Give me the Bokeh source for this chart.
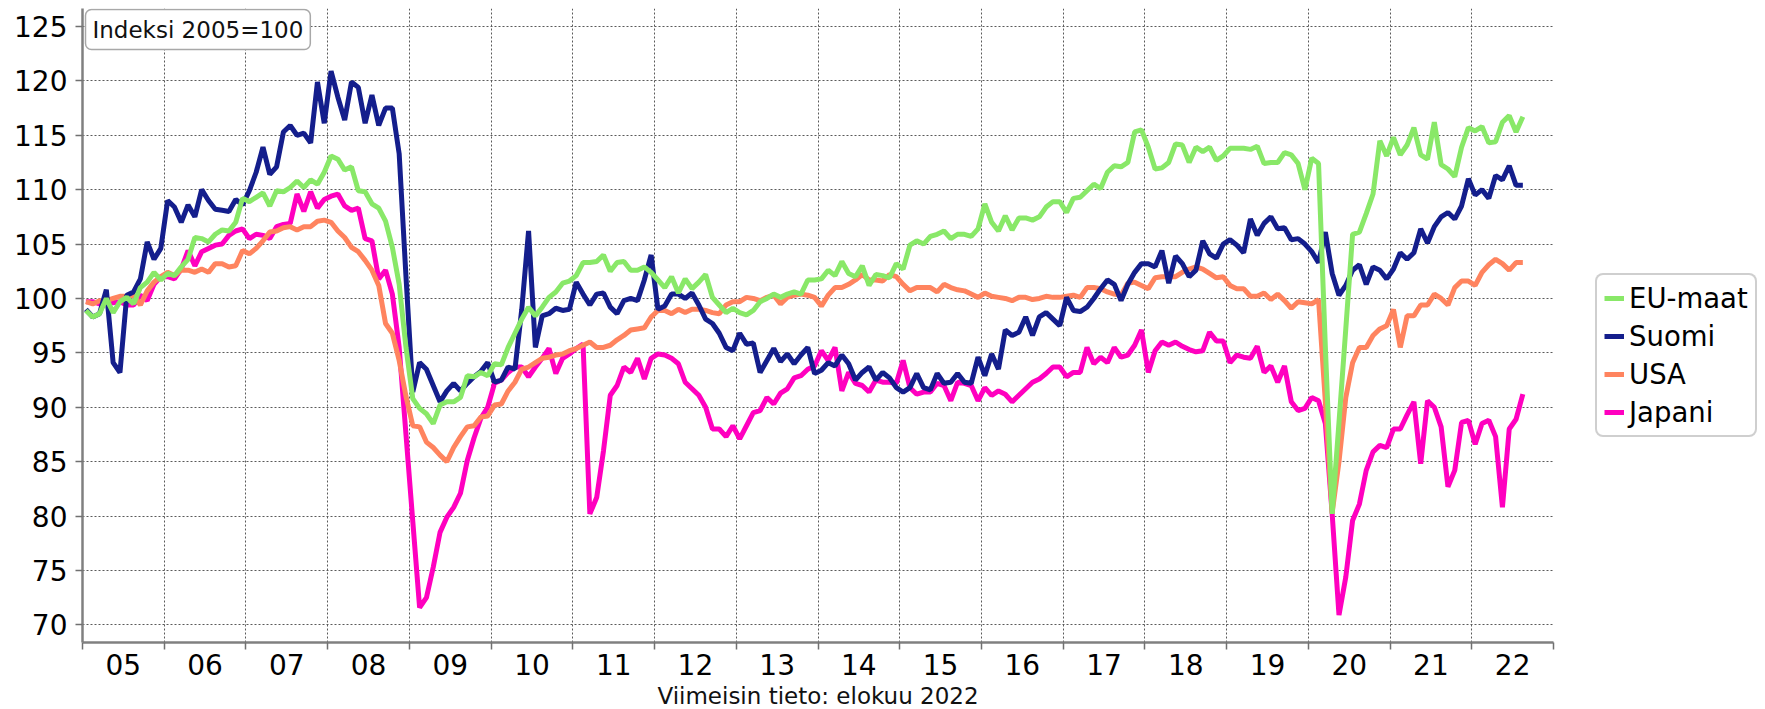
from bokeh.plotting import figure
from bokeh.models import Range1d, FixedTicker, Legend, LegendItem, Label, ColumnDataSource
from bokeh.embed import file_html
from bokeh.resources import INLINE

# ---------------- data (monthly index, 2005=100), Jan 2005 .. Aug 2022 ----------------
start_year = 2005
end_year = 2023
year_labels = ["05", "06", "07", "08", "09", "10", "11", "12", "13", "14",
               "15", "16", "17", "18", "19", "20", "21", "22"]
y_ticks = [70, 75, 80, 85, 90, 95, 100, 105, 110, 115, 120, 125]

eu_maat = [
    98.9, 98.3, 98.6, 100.0, 98.7, 99.7, 100.1, 99.5, 101.0, 101.5, 102.4, 101.7,
    102.3, 102.1, 102.9, 103.6, 105.6, 105.5, 105.2, 105.9, 106.3, 106.2, 107.0, 109.2,
    108.9, 109.3, 109.7, 108.5, 109.9, 109.8, 110.2, 110.8, 110.2, 110.9, 110.5, 111.6,
    113.1, 112.8, 111.8, 112.1, 109.9, 109.8, 108.7, 108.3, 107.1, 104.7, 101.3, 95.5,
    90.8, 89.9, 89.4, 88.5, 90.2, 90.5, 90.5, 90.9, 92.9, 92.8, 93.2, 92.9,
    94.0, 93.9, 95.5, 96.8, 98.1, 99.2, 98.4, 99.2, 100.1, 100.6, 101.4, 101.6,
    102.1, 103.3, 103.3, 103.4, 104.0, 102.5, 103.3, 103.4, 102.6, 102.6, 102.9, 102.4,
    101.7, 101.0, 102.0, 100.5, 101.8, 100.9, 101.5, 102.2, 100.1, 99.4, 98.7, 99.1,
    98.7, 98.5, 98.9, 99.7, 100.0, 100.4, 100.1, 100.4, 100.6, 100.4, 101.7, 101.7,
    101.8, 102.6, 102.1, 103.4, 102.3, 102.0, 103.0, 101.2, 102.2, 102.1, 101.9, 103.2,
    102.7, 104.9, 105.3, 105.0, 105.7, 105.9, 106.2, 105.5, 105.9, 105.9, 105.7, 106.4,
    108.7, 107.0, 106.2, 107.6, 106.3, 107.4, 107.4, 107.2, 107.5, 108.4, 108.9, 108.9,
    107.9, 109.2, 109.3, 109.9, 110.5, 110.1, 111.6, 112.2, 112.1, 112.5, 115.3, 115.5,
    113.9, 111.9, 112.0, 112.5, 114.2, 114.1, 112.5, 113.9, 113.5, 113.9, 112.7, 113.1,
    113.8, 113.8, 113.8, 113.7, 114.0, 112.4, 112.5, 112.5, 113.4, 113.2, 112.4, 110.0,
    112.9, 112.4, 95.5, 80.2, 88.6, 97.2, 105.9, 106.1, 107.8, 109.6, 114.5, 113.1,
    114.8, 113.2, 114.1, 115.7, 113.2, 112.8, 116.2, 112.3, 111.9, 111.2, 113.9, 115.7,
    115.4, 115.8, 114.3, 114.4, 116.2, 116.8, 115.3, 116.7,
]

suomi = [
    99.0, 98.3, 98.6, 100.8, 94.1, 93.2, 100.3, 100.6, 101.8, 105.2, 103.6, 104.6,
    109.0, 108.4, 107.0, 108.6, 107.5, 110.0, 109.0, 108.2, 108.1, 108.0, 109.1, 108.6,
    109.9, 111.6, 113.9, 111.4, 112.1, 115.3, 115.9, 115.0, 115.2, 114.3, 119.9, 116.1,
    120.9, 118.5, 116.4, 119.9, 119.4, 116.1, 118.7, 115.9, 117.5, 117.5, 113.3, 102.0,
    91.4, 94.1, 93.5, 92.0, 90.5, 91.5, 92.2, 91.5, 92.2, 92.8, 93.3, 94.1,
    92.3, 92.5, 93.7, 93.5, 99.0, 106.2, 95.5, 98.4, 98.6, 99.1, 98.9, 99.0,
    101.5, 100.4, 99.4, 100.4, 100.5, 99.2, 98.6, 99.8, 100.0, 99.8, 101.7, 104.0,
    99.0, 99.3, 100.4, 100.4, 100.0, 100.5, 99.4, 98.1, 97.7, 96.8, 95.5, 95.2,
    96.8, 95.8, 95.9, 93.2, 94.3, 95.4, 94.2, 94.9, 94.0, 94.8, 95.5, 93.1,
    93.4, 94.1, 93.8, 94.8, 94.0, 92.5, 93.2, 93.7, 92.5, 93.2, 92.7, 91.8,
    91.4, 91.8, 93.1, 91.8, 91.6, 93.1, 92.2, 92.3, 93.1, 92.3, 92.2, 94.6,
    92.9, 94.9, 93.5, 97.1, 96.6, 96.9, 98.3, 96.6, 98.3, 98.7, 98.1, 97.5,
    100.1, 98.9, 98.8, 99.2, 100.0, 100.9, 101.7, 101.3, 99.8, 101.3, 102.4, 103.2,
    103.2, 102.9, 104.4, 101.4, 103.9, 103.2, 102.0, 102.6, 105.3, 104.1, 103.7, 105.0,
    105.4, 104.9, 104.2, 107.3, 105.8, 106.9, 107.5, 106.4, 106.5, 105.4, 105.5, 105.0,
    104.3, 103.3, 106.1, 102.3, 100.3, 101.2, 102.6, 103.1, 101.3, 102.9, 102.6, 101.8,
    102.7, 104.2, 103.6, 104.2, 106.4, 105.1, 106.6, 107.5, 107.9, 107.3, 108.5, 111.0,
    109.5, 110.0, 109.2, 111.3, 110.9, 112.2, 110.4, 110.4,
]

usa = [
    99.7, 99.5, 99.8, 99.8, 100.0, 100.2, 100.2, 100.3, 99.4, 100.7, 101.5, 102.0,
    102.4, 102.1, 102.6, 102.6, 102.4, 102.7, 102.4, 103.2, 103.2, 102.9, 103.0, 104.4,
    104.1, 104.6, 105.3, 106.1, 106.2, 106.5, 106.6, 106.3, 106.6, 106.6, 107.1, 107.2,
    107.0, 106.2, 105.6, 104.7, 104.3, 103.5, 102.6, 101.2, 97.7, 96.8, 94.3, 91.0,
    88.3, 88.2, 86.8, 86.3, 85.6, 85.0, 86.3, 87.3, 88.2, 88.3, 89.1, 89.2,
    90.2, 90.3, 91.5, 92.3, 93.5, 93.7, 94.1, 94.5, 94.6, 94.8, 94.9, 95.2,
    95.4, 95.7, 96.0, 95.5, 95.5, 95.7, 96.2, 96.6, 97.1, 97.2, 97.3, 98.3,
    98.9, 98.9, 98.6, 99.0, 98.7, 99.0, 99.0, 98.9, 98.7, 98.6, 99.4, 99.7,
    99.7, 100.1, 100.0, 99.8, 100.1, 100.3, 99.5, 100.1, 100.3, 100.4, 100.3, 100.1,
    99.3, 100.3, 101.0, 101.0, 101.3, 101.7, 102.2, 101.7, 101.7, 101.6, 102.2, 102.0,
    101.3, 100.7, 101.0, 101.0, 101.0, 100.6, 101.3, 101.0, 100.8, 100.7, 100.4, 100.1,
    100.5, 100.2, 100.1, 100.0, 99.8, 100.1, 100.1, 99.9, 100.0, 100.2, 100.1, 100.1,
    100.2, 100.3, 100.1, 101.0, 101.0, 100.9, 100.6, 100.4, 100.3, 101.4, 101.5, 101.2,
    100.9, 101.9, 102.0, 102.0, 102.0, 102.4, 102.7, 102.9, 102.7, 102.3, 101.9, 102.0,
    101.2, 100.9, 100.9, 100.2, 100.2, 100.5, 99.9, 100.4, 99.8, 99.1, 99.7, 99.6,
    99.5, 99.9, 90.5, 80.3, 85.0, 90.9, 94.1, 95.5, 95.5, 96.6, 97.2, 97.5,
    99.0, 95.5, 98.4, 98.4, 99.4, 99.4, 100.4, 100.0, 99.4, 101.0, 101.6, 101.6,
    101.2, 102.4, 103.1, 103.6, 103.2, 102.6, 103.3, 103.3,
]

japani = [
    99.7, 99.7, 99.5, 99.8, 99.6, 99.7, 99.4, 99.4, 100.3, 99.8, 101.3, 102.0,
    102.0, 101.8, 102.7, 104.4, 103.0, 104.3, 104.6, 104.9, 105.0, 105.8, 106.2, 106.4,
    105.5, 105.9, 105.8, 105.5, 106.6, 106.8, 106.9, 109.6, 108.0, 109.8, 108.3, 109.1,
    109.4, 109.6, 108.5, 108.1, 108.3, 105.5, 105.3, 101.8, 102.6, 100.4, 95.5, 87.5,
    79.5, 71.6, 72.5, 75.3, 78.5, 79.9, 80.8, 82.1, 85.1, 87.2, 89.0, 90.0,
    92.2, 92.5, 93.2, 93.7, 93.7, 92.8, 93.7, 94.5, 95.4, 93.1, 94.5, 94.9,
    95.4, 95.8, 80.2, 81.7, 86.0, 91.1, 92.0, 93.7, 93.2, 94.5, 92.6, 94.5,
    94.9, 94.8, 94.5, 94.0, 92.3, 91.7, 91.1, 90.0, 88.0, 88.0, 87.3, 88.3,
    87.1, 88.3, 89.5, 89.7, 90.9, 90.3, 91.3, 91.7, 92.7, 92.9, 93.5, 93.8,
    95.2, 94.3, 95.5, 91.5, 93.2, 92.2, 92.0, 91.4, 92.5, 92.3, 92.3, 92.2,
    94.3, 91.8, 91.2, 91.4, 91.4, 92.2, 92.0, 90.6, 92.3, 92.2, 92.0, 90.6,
    91.8, 91.1, 91.5, 91.2, 90.5, 91.1, 91.7, 92.3, 92.6, 93.1, 93.7, 93.7,
    92.8, 93.2, 93.2, 95.5, 94.0, 94.6, 94.1, 95.5, 94.6, 94.8, 95.7, 97.1,
    93.2, 95.2, 96.0, 95.7, 96.0, 95.6, 95.3, 95.1, 95.2, 96.9, 96.1, 96.1,
    94.1, 94.8, 94.6, 94.5, 95.6, 93.2, 93.8, 92.3, 93.8, 90.5, 89.7, 89.9,
    90.9, 90.6, 88.5, 80.2, 70.9, 74.4, 79.6, 81.1, 84.2, 85.9, 86.5, 86.3,
    88.0, 88.0, 89.3, 90.5, 84.8, 90.6, 90.0, 88.2, 82.7, 84.2, 88.6, 88.8,
    86.6, 88.5, 88.8, 87.3, 80.8, 88.0, 88.9, 91.2,
]

series_names = ["EU-maat", "Suomi", "USA", "Japani"]
series_values = [eu_maat, suomi, usa, japani]
series_colors = ["#89E868", "#141E8C", "#FF845F", "#FF00BF"]

# month positions: middle of each month on a fractional-year axis
n_months = len(eu_maat)
x_month = [start_year + (k // 12) + ((k % 12) + 0.5) / 12 for k in range(n_months)]

year_bounds = list(range(start_year, end_year + 1))
year_mids = [y + 0.5 for y in range(start_year, end_year)]

FONT = "DejaVu Sans"

p = figure(
    frame_width=1471, frame_height=634,
    x_range=Range1d(start_year, end_year), y_range=Range1d(68.38, 126.65),
    output_backend="svg", toolbar_location=None,
    min_border_left=82, min_border_right=200, min_border_top=8, min_border_bottom=10,
    background_fill_color="white", border_fill_color="white",
)
p.outline_line_color = None

# grid
p.xgrid.ticker = FixedTicker(ticks=year_bounds)
for g in (p.xgrid, p.ygrid):
    g.grid_line_color = "#5a5a5a"
    g.grid_line_dash = "2 2"
    g.grid_line_width = 1

# y axis
p.yaxis.ticker = FixedTicker(ticks=y_ticks)
p.yaxis.major_label_text_font = FONT
p.yaxis.major_label_text_font_size = "28px"
p.yaxis.major_label_text_color = "black"
p.yaxis.major_label_standoff = 8
p.yaxis.major_tick_out = 7
p.yaxis.major_tick_in = 0

# x axis
p.xaxis.ticker = FixedTicker(ticks=year_mids, minor_ticks=year_bounds)
p.xaxis.major_label_overrides = {m: lab for m, lab in zip(year_mids, year_labels)}
p.xaxis.major_label_text_font = FONT
p.xaxis.major_label_text_font_size = "28px"
p.xaxis.major_label_text_color = "black"
p.xaxis.major_label_standoff = 4
p.xaxis.major_tick_out = 0
p.xaxis.major_tick_in = 0
p.xaxis.minor_tick_out = 7
p.xaxis.minor_tick_in = 0
p.xaxis.axis_label = "Viimeisin tieto: elokuu 2022"
p.xaxis.axis_label_text_font = FONT
p.xaxis.axis_label_text_font_size = "23px"
p.xaxis.axis_label_text_font_style = "normal"
p.xaxis.axis_label_text_color = "#111111"
p.xaxis.axis_label_standoff = 5

for ax in (p.xaxis, p.yaxis):
    ax.axis_line_color = "#808080"
    ax.axis_line_width = 2.5
    ax.major_tick_line_color = "#707070"
    ax.major_tick_line_width = 1.5
    ax.minor_tick_line_color = "#707070"
    ax.minor_tick_line_width = 1.5
p.yaxis.minor_tick_line_color = None

# lines (drawn Japani first, EU-maat last = on top)
renderers = {}
for name, vals, col in reversed(list(zip(series_names, series_values, series_colors))):
    src = ColumnDataSource(dict(x=x_month, y=vals))
    renderers[name] = p.line("x", "y", source=src, line_color=col, line_width=5)

legend = Legend(
    items=[LegendItem(label=nm, renderers=[renderers[nm]]) for nm in series_names],
    location=(42, 205), margin=0,
    label_text_font=FONT, label_text_font_size="27.5px", label_text_color="black",
    glyph_width=20, glyph_height=30, label_standoff=5, spacing=6, padding=7,
    border_line_color="#a0a0a0", border_line_width=2.5,
    background_fill_color="white", background_fill_alpha=1.0,
)
try:
    legend.border_radius = 8
except Exception:
    pass
p.add_layout(legend, "right")

label_kw = dict(x=3, y=633, x_units="screen", y_units="screen",
                text="Indeksi 2005=100", text_font=FONT, text_font_size="23px",
                text_color="#111111", background_fill_color="white",
                border_line_color="#a8a8a8", border_line_width=1.5)
try:
    lab = Label(anchor="top_left", padding=7, border_radius=6, **label_kw)
except Exception:
    lab = Label(text_align="left", text_baseline="top", **label_kw)
p.add_layout(lab)

open("out.html", "w").write(file_html(p, INLINE))
